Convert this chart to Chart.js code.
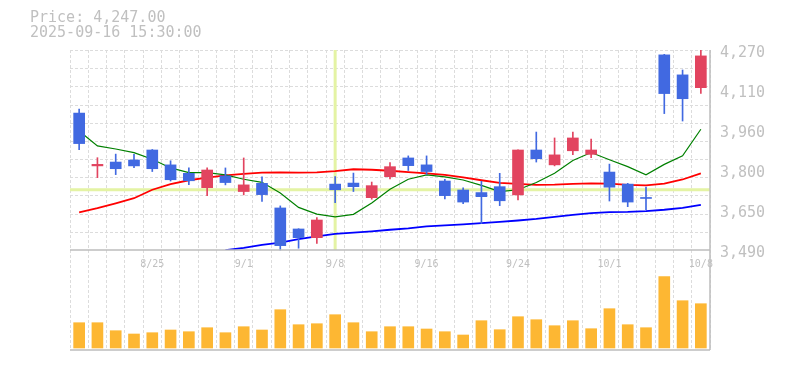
<!DOCTYPE html>
<html>
<head>
<meta charset="utf-8">
<script src="https://cdn.jsdelivr.net/npm/chart.js@4.4.1/dist/chart.umd.min.js"></script>
<style>
  html, body { margin: 0; padding: 0; background: #fff; }
  #wrap { position: relative; width: 785px; height: 370px; }
  #head { position: absolute; left: 30px; top: 10px; font: 15px "DejaVu Sans Mono", monospace; line-height: 14.5px; color: #c0c0c0; white-space: pre; }
  canvas { position: absolute; left: 0; top: 0; }
</style>
</head>
<body>
<div id="wrap">
  <canvas id="chart" width="785" height="370"></canvas>
  <div id="head"><div id="price"></div><div id="stamp"></div></div>
</div>
<script>
// trading sessions on the chart
const dates = ['8/19', '8/20', '8/21', '8/22', '8/25', '8/26', '8/27', '8/28', '8/29',
  '9/1', '9/2', '9/3', '9/4', '9/5', '9/8', '9/9', '9/10', '9/11', '9/12',
  '9/16', '9/17', '9/18', '9/19', '9/22', '9/24', '9/25', '9/26', '9/29', '9/30',
  '10/1', '10/2', '10/3', '10/6', '10/7', '10/8'];

const opens  = [4024, 3818, 3833, 3841, 3880, 3822, 3789, 3733, 3779, 3718, 3750, 3654, 3572, 3538, 3747, 3751, 3694, 3776,
  3849, 3822, 3759, 3724, 3714, 3737, 3705, 3880, 3822, 3877, 3863, 3794, 3747, 3694, 4251, 4173, 4123];
const highs  = [4040, 3850, 3864, 3863, 3882, 3838, 3810, 3810, 3810, 3849, 3775, 3662, 3573, 3616, 3776, 3790, 3755, 3831,
  3857, 3857, 3766, 3732, 3758, 3789, 3881, 3950, 3927, 3950, 3923, 3825, 3750, 3735, 4253, 4192, 4270];
const lows   = [3881, 3772, 3784, 3811, 3796, 3759, 3745, 3702, 3744, 3705, 3679, 3490, 3497, 3516, 3675, 3718, 3688, 3767,
  3800, 3784, 3689, 3671, 3593, 3663, 3685, 3833, 3818, 3862, 3850, 3681, 3659, 3647, 4022, 3993, 4101];
const closes = [3905, 3824, 3807, 3818, 3807, 3764, 3760, 3802, 3753, 3744, 3706, 3507, 3538, 3607, 3725, 3737, 3741, 3815,
  3819, 3796, 3702, 3677, 3698, 3682, 3880, 3846, 3861, 3927, 3880, 3735, 3677, 3691, 4100, 4080, 4247];

const volumes = [253, 253, 173, 140, 153, 180, 163, 203, 153, 213, 180, 383, 233, 243, 333, 253, 163, 213, 213,
  190, 163, 130, 273, 183, 313, 283, 223, 273, 193, 393, 233, 203, 713, 473, 443];

// moving averages as drawn (5 / 25 / 75 sessions)
const ma5  = [3954, 3896, 3884, 3870, 3844, 3810, 3792, 3792, 3783, 3766, 3754, 3712, 3656, 3630, 3619, 3629, 3673, 3727,
  3766, 3783, 3775, 3763, 3742, 3718, 3725, 3753, 3789, 3839, 3870, 3842, 3815, 3783, 3824, 3857, 3961];
const ma25 = [3637, 3653, 3672, 3692, 3725, 3747, 3762, 3772, 3781, 3787, 3792, 3793, 3792, 3793, 3798, 3805, 3803, 3799,
  3794, 3789, 3783, 3773, 3762, 3752, 3748, 3744, 3745, 3748, 3750, 3749, 3744, 3742, 3749, 3765, 3789];
const ma75 = [null, null, null, null, null, null, null, null, 3489, 3498, 3510, 3519, 3532, 3543, 3553, 3558, 3563, 3569,
  3574, 3582, 3586, 3590, 3595, 3600, 3605, 3611, 3619, 3627, 3634, 3638, 3639, 3642, 3647, 3654, 3666];

const priceTicks = [3490, 3646, 3802, 3958, 4114, 4270];
const stampText = '2025-09-16 15:30:00';
const crossIndex = 14;

const UP = '#e2445f', DOWN = '#4169e1', VOL = '#fdb733';
const GRID = '#dcdcdc', AXIS = '#bdbdbd', TEXT = '#c0c0c0';
const MONO = '"DejaVu Sans Mono", monospace';

const priceLow = priceTicks[0];
const priceHigh = priceTicks[priceTicks.length - 1];
const candleColors = closes.map((c, i) => c >= opens[i] ? UP : DOWN);

document.getElementById('price').textContent =
  'Price: ' + closes[closes.length - 1].toLocaleString('en-US', { minimumFractionDigits: 2 });
document.getElementById('stamp').textContent = stampText;

// grid of the price panel, crosshair, panel borders and date labels
const panelPlugin = {
  id: 'panels',
  beforeDatasetsDraw(chart) {
    const { ctx, chartArea: a, scales: { x, y } } = chart;
    const top = y.getPixelForValue(priceHigh);
    const bottom = y.getPixelForValue(priceLow);
    ctx.save();
    ctx.strokeStyle = GRID;
    ctx.lineWidth = 1;
    ctx.setLineDash([3, 2]);
    for (let k = 0; k < 11; k++) {
      const py = Math.round(top + (bottom - top) * k / 11) + 0.5;
      ctx.beginPath();
      ctx.moveTo(a.left, py);
      ctx.lineTo(a.right, py);
      ctx.stroke();
    }
    ctx.setLineDash([]);
    ctx.strokeStyle = '#e4f3a4';
    ctx.lineWidth = 3;
    const cx = x.getPixelForValue(crossIndex);
    const cy = y.getPixelForValue(closes[crossIndex]);
    ctx.beginPath();
    ctx.moveTo(cx, top);
    ctx.lineTo(cx, bottom);
    ctx.moveTo(a.left, cy);
    ctx.lineTo(a.right, cy);
    ctx.stroke();
    ctx.restore();
  },
  afterDraw(chart) {
    const { ctx, chartArea: a, scales: { x, y } } = chart;
    const bottom = y.getPixelForValue(priceLow);
    ctx.save();
    ctx.strokeStyle = AXIS;
    ctx.lineWidth = 1.5;
    ctx.beginPath();
    ctx.moveTo(a.left, bottom);
    ctx.lineTo(a.right, bottom);
    ctx.moveTo(a.left, a.bottom);
    ctx.lineTo(a.right, a.bottom);
    ctx.moveTo(a.right, a.top);
    ctx.lineTo(a.right, a.bottom);
    ctx.stroke();
    // a date every 5 sessions, counted back from the last one
    ctx.fillStyle = TEXT;
    ctx.font = '10px ' + MONO;
    ctx.textAlign = 'center';
    ctx.textBaseline = 'alphabetic';
    dates.forEach((d, i) => {
      if ((dates.length - 1 - i) % 5 === 0) ctx.fillText(d, x.getPixelForValue(i), bottom + 17);
    });
    ctx.restore();
  }
};

const lineSet = (data, color, width) => ({
  type: 'line', data, yAxisID: 'y', borderColor: color, borderWidth: width,
  pointRadius: 0, tension: 0, fill: false, order: 3, clip: { left: 0, top: 0, right: 0, bottom: -100 }
});

new Chart(document.getElementById('chart'), {
  type: 'bar',
  data: {
    labels: dates,
    datasets: [
      lineSet(ma5, '#008000', 1.2),
      lineSet(ma25, '#ff0000', 1.8),
      lineSet(ma75, '#0000ff', 1.8),
      {
        data: lows.map((l, i) => [l, highs[i]]), yAxisID: 'y', backgroundColor: candleColors,
        barThickness: 1, grouped: false, order: 2
      },
      {
        data: opens.map((o, i) => [o, closes[i]]), yAxisID: 'y', backgroundColor: candleColors,
        barThickness: 11, minBarLength: 1, grouped: false, order: 1
      },
      {
        data: volumes, yAxisID: 'yv', backgroundColor: VOL,
        barThickness: 11, grouped: false, order: 4
      }
    ]
  },
  options: {
    responsive: false,
    animation: false,
    devicePixelRatio: 1,
    events: [],
    layout: { padding: { left: 70, top: 50, right: 0, bottom: 20 } },
    plugins: { legend: { display: false }, tooltip: { enabled: false } },
    scales: {
      x: {
        offset: true,
        grid: { offset: true, color: GRID, drawTicks: false },
        border: { display: false, dash: [3, 2] },
        ticks: { display: false, autoSkip: false },
        afterFit: s => { s.height = 0; }
      },
      y: {
        position: 'right',
        min: priceLow - (priceHigh - priceLow) / 2,
        max: priceHigh,
        afterBuildTicks: s => { s.ticks = priceTicks.map(v => ({ value: v })); },
        grid: { display: false, drawTicks: false },
        border: { display: false },
        ticks: {
          padding: 10, labelOffset: 3, autoSkip: false, color: TEXT,
          font: { family: MONO, size: 15 },
          callback: v => (Math.round(v / 10) * 10).toLocaleString('en-US')
        },
        afterFit: s => { s.width = 75; }
      },
      yv: { display: false, min: -20, max: 2980 }
    }
  },
  plugins: [panelPlugin]
});
</script>
</body>
</html>
